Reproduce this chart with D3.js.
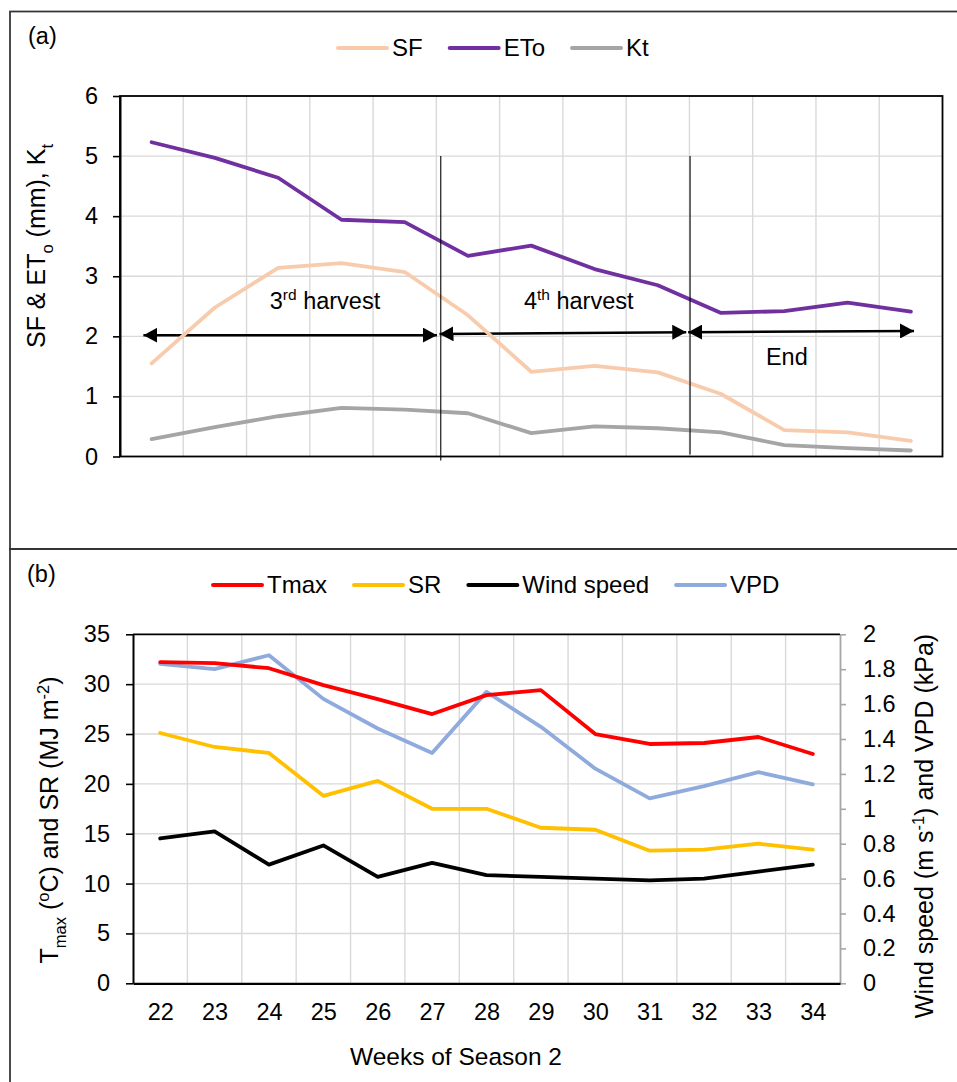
<!DOCTYPE html>
<html>
<head>
<meta charset="utf-8">
<script src="https://cdn.jsdelivr.net/npm/d3@7"></script>
<style>
  html, body { margin: 0; padding: 0; background: #fff; }
  svg { display: block; font-family: "Liberation Sans", Arial, Helvetica, sans-serif; }
</style>
</head>
<body>
<svg id="chart" width="957" height="1082"></svg>
<script>
// ---- data -------------------------------------------------------------
const weeks = [22, 23, 24, 25, 26, 27, 28, 29, 30, 31, 32, 33, 34];

// panel (a): sap flow, reference evapotranspiration, crop coefficient
const sfValues  = [1.55, 2.48, 3.14, 3.22, 3.07, 2.35, 1.41, 1.51, 1.40, 1.04, 0.44, 0.40, 0.26];
const etoValues = [5.23, 4.97, 4.64, 3.94, 3.90, 3.34, 3.51, 3.12, 2.85, 2.39, 2.42, 2.56, 2.41];
const ktValues  = [0.29, 0.49, 0.67, 0.81, 0.78, 0.72, 0.39, 0.50, 0.47, 0.40, 0.19, 0.14, 0.10];

// panel (b): weather
const tmaxValues = [32.2, 32.1, 31.6, 29.9, 28.5, 27.0, 28.9, 29.4, 25.0, 24.0, 24.1, 24.7, 23.0];
const srValues   = [25.1, 23.7, 23.1, 18.8, 20.3, 17.5, 17.5, 15.6, 15.4, 13.3, 13.4, 14.0, 13.4];
const windValues = [0.83, 0.87, 0.68, 0.79, 0.61, 0.69, 0.62, 0.61, 0.60, 0.59, 0.60, 0.64, 0.68];
const vpdValues  = [1.83, 1.80, 1.88, 1.63, 1.46, 1.32, 1.67, 1.47, 1.23, 1.06, 1.13, 1.21, 1.14];

// tick labels
const aTicks     = [0, 1, 2, 3, 4, 5, 6];
const leftTicks  = [0, 5, 10, 15, 20, 25, 30, 35];
const rightTicks = [0, 0.2, 0.4, 0.6, 0.8, 1, 1.2, 1.4, 1.6, 1.8, 2];

// harvest periods: [startWeek, startY, endWeek, endY]
const periodArrows = [[21.87, 2.02, 26.51, 2.02], [26.55, 2.04, 30.45, 2.07], [30.48, 2.07, 34.05, 2.09]];
const periodBounds = [26.57, 30.51];
const periodLabels = [
  { week: 24.74, y: 2.45, parts: [{ t: "3" }, { t: "rd", sup: true }, { t: " harvest" }] },
  { week: 28.75, y: 2.45, parts: [{ t: "4" }, { t: "th", sup: true }, { t: " harvest" }] },
  { week: 32.04, y: 1.52, parts: [{ t: "End" }] }
];

// ---- setup ------------------------------------------------------------
const svg = d3.select("#chart");
const FONT = 23.5;
const gridColor = "#d9d9d9";
const numFmt = d => String(+d.toFixed(1));

// outer frames of the two panels
svg.append("rect").attr("x", 10).attr("y", 11.5).attr("width", 1000).attr("height", 537.5)
  .attr("fill", "none").attr("stroke", "#333").attr("stroke-width", 1.75);
svg.append("rect").attr("x", 10).attr("y", 549).attr("width", 1000).attr("height", 600)
  .attr("fill", "none").attr("stroke", "#333").attr("stroke-width", 1.75);

// writes text made of plain / subscript / superscript pieces
function richText(textSel, parts, size) {
  let shift = 0;
  parts.forEach(p => {
    const ts = textSel.append("tspan").text(p.t);
    let target = 0;
    if (p.sub) target = size * 0.3;
    if (p.sup) target = -size * 0.38;
    ts.attr("dy", target - shift);
    if (p.sub || p.sup) ts.attr("font-size", size * 0.66);
    shift = target;
  });
}

function legend(items, x0, y, size) {
  const g = svg.append("g");
  let x = x0;
  items.forEach(it => {
    g.append("line").attr("x1", x).attr("x2", x + 49).attr("y1", y).attr("y2", y)
      .attr("stroke", it.color).attr("stroke-width", 4).attr("stroke-linecap", "round");
    const t = g.append("text").attr("x", x + 54).attr("y", y).attr("dy", "0.35em")
      .attr("font-size", size).attr("fill", "#000").text(it.name);
    x += 54 + t.node().getComputedTextLength() + 27;
  });
}

// ---- panel (a) --------------------------------------------------------
const ax = d3.scaleLinear().domain([21.5, 34.5]).range([120, 942.5]);
const ay = d3.scaleLinear().domain([0, 6]).range([456.5, 96]);

const ga = svg.append("g");
// grid
ga.selectAll(".hg").data(aTicks.slice(1, -1)).join("line")
  .attr("x1", ax.range()[0]).attr("x2", ax.range()[1])
  .attr("y1", d => ay(d)).attr("y2", d => ay(d))
  .attr("stroke", gridColor).attr("stroke-width", 1.4);
ga.selectAll(".vg").data(weeks.slice(0, -1).map(w => w + 0.5)).join("line")
  .attr("x1", d => ax(d)).attr("x2", d => ax(d))
  .attr("y1", ay(6)).attr("y2", ay(0))
  .attr("stroke", gridColor).attr("stroke-width", 1.4);

// harvest arrows
const defs = svg.append("defs");
defs.append("marker").attr("id", "head").attr("viewBox", "0 0 14 15")
  .attr("refX", 14).attr("refY", 7.5).attr("markerWidth", 14).attr("markerHeight", 15)
  .attr("markerUnits", "userSpaceOnUse").attr("orient", "auto-start-reverse")
  .append("path").attr("d", "M0,0L14,7.5L0,15Z").attr("fill", "#000");

ga.selectAll(".arrow").data(periodArrows).join("line")
  .attr("x1", d => ax(d[0])).attr("y1", d => ay(d[1]))
  .attr("x2", d => ax(d[2])).attr("y2", d => ay(d[3]))
  .attr("stroke", "#000").attr("stroke-width", 2.5)
  .attr("marker-start", "url(#head)").attr("marker-end", "url(#head)");

// series lines
const aSeries = [
  { name: "SF",  values: sfValues,  color: "#F8CBAD" },
  { name: "ETo", values: etoValues, color: "#7030A0" },
  { name: "Kt",  values: ktValues,  color: "#A5A5A5" }
];
const aLine = d3.line().x((d, i) => ax(weeks[i])).y(d => ay(d));
aSeries.forEach(s => {
  ga.append("path").datum(s.values).attr("d", aLine)
    .attr("fill", "none").attr("stroke", s.color).attr("stroke-width", 3.8)
    .attr("stroke-linejoin", "round").attr("stroke-linecap", "round");
});

// period boundaries
ga.selectAll(".bound").data(periodBounds).join("line")
  .attr("x1", d => ax(d)).attr("x2", d => ax(d))
  .attr("y1", ay(5)).attr("y2", (d, i) => ay(0) + (i === 0 ? 4 : -2))
  .attr("stroke", "#000").attr("stroke-width", 1.1);

// period labels
periodLabels.forEach(l => {
  const t = ga.append("text").attr("x", ax(l.week)).attr("y", ay(l.y))
    .attr("text-anchor", "middle").attr("font-size", FONT).attr("fill", "#000");
  richText(t, l.parts, FONT);
});

// plot frame
ga.append("rect").attr("x", ax.range()[0]).attr("y", ay(6))
  .attr("width", ax.range()[1] - ax.range()[0]).attr("height", ay(0) - ay(6))
  .attr("fill", "none").attr("stroke", "#000").attr("stroke-width", 1.8);

// y axis
const aAxis = ga.append("g").attr("transform", `translate(${ax.range()[0]},0)`)
  .call(d3.axisLeft(ay).tickValues(aTicks).tickSize(7).tickSizeOuter(0).tickPadding(15)
    .tickFormat(numFmt));
aAxis.select(".domain").attr("stroke", "#000").attr("stroke-width", 2);
aAxis.selectAll(".tick line").attr("stroke", "#000").attr("stroke-width", 1.6);
aAxis.selectAll(".tick text").attr("font-size", FONT).attr("fill", "#000")
  .attr("font-family", "'Liberation Sans', Arial, sans-serif");

// axis title
const aTitle = svg.append("text").attr("transform", "translate(45,246) rotate(-90)")
  .attr("text-anchor", "middle").attr("font-size", 25).attr("fill", "#000");
richText(aTitle, [{ t: "SF & ET" }, { t: "o", sub: true }, { t: " (mm), K" }, { t: "t", sub: true }], 25);

svg.append("text").attr("x", 28).attr("y", 44).attr("font-size", FONT).attr("fill", "#000").text("(a)");
legend(aSeries, 338, 48, 24);

// ---- panel (b) --------------------------------------------------------
const bx = d3.scaleLinear().domain([21.5, 34.5]).range([133, 840]);
const byL = d3.scaleLinear().domain([0, 35]).range([983.3, 634.3]);
const byR = d3.scaleLinear().domain([0, 2]).range([983.3, 634.3]);

const gb = svg.append("g");
gb.selectAll(".hg").data(leftTicks.slice(1, -1)).join("line")
  .attr("x1", bx.range()[0]).attr("x2", bx.range()[1])
  .attr("y1", d => byL(d)).attr("y2", d => byL(d))
  .attr("stroke", gridColor).attr("stroke-width", 1.4);
gb.selectAll(".vg").data(weeks.slice(0, -1).map(w => w + 0.5)).join("line")
  .attr("x1", d => bx(d)).attr("x2", d => bx(d))
  .attr("y1", byL(35)).attr("y2", byL(0))
  .attr("stroke", gridColor).attr("stroke-width", 1.4);

const bSeries = [
  { name: "Tmax",       values: tmaxValues, color: "#FF0000", scale: byL },
  { name: "SR",         values: srValues,   color: "#FFC000", scale: byL },
  { name: "Wind speed", values: windValues, color: "#000000", scale: byR },
  { name: "VPD",        values: vpdValues,  color: "#8FAADC", scale: byR }
];
// draw order: secondary-axis series first, then primary
[bSeries[2], bSeries[3], bSeries[0], bSeries[1]].forEach(s => {
  const line = d3.line().x((d, i) => bx(weeks[i])).y(d => s.scale(d));
  gb.append("path").datum(s.values).attr("d", line)
    .attr("fill", "none").attr("stroke", s.color).attr("stroke-width", 3.8)
    .attr("stroke-linejoin", "round").attr("stroke-linecap", "round");
});

// top edge of plot area
gb.append("line").attr("x1", bx.range()[0]).attr("x2", bx.range()[1])
  .attr("y1", byL(35)).attr("y2", byL(35)).attr("stroke", "#000").attr("stroke-width", 1.8);

// left axis
const lAxis = gb.append("g").attr("transform", `translate(${bx.range()[0]},0)`)
  .call(d3.axisLeft(byL).tickValues(leftTicks).tickSize(7).tickSizeOuter(0).tickPadding(16)
    .tickFormat(numFmt));
lAxis.select(".domain").attr("stroke", "#000").attr("stroke-width", 2);
lAxis.selectAll(".tick line").attr("stroke", "#000").attr("stroke-width", 1.6);

// right axis
const rAxis = gb.append("g").attr("transform", `translate(${bx.range()[1]},0)`)
  .call(d3.axisRight(byR).tickValues(rightTicks).tickSize(6).tickSizeOuter(0).tickPadding(17)
    .tickFormat(numFmt));
rAxis.select(".domain").attr("stroke", "#a6a6a6").attr("stroke-width", 1.8);
rAxis.selectAll(".tick line").attr("stroke", "#a6a6a6").attr("stroke-width", 1.6);

// bottom axis
const xAxis = gb.append("g").attr("transform", `translate(0,${byL(0)})`)
  .call(d3.axisBottom(bx).tickValues(weeks).tickSize(0).tickSizeOuter(0).tickPadding(20)
    .tickFormat(d3.format("d")));
xAxis.select(".domain").attr("stroke", "#000").attr("stroke-width", 2.2);

[lAxis, rAxis, xAxis].forEach(a => a.selectAll(".tick text").attr("font-size", FONT).attr("fill", "#000")
  .attr("font-family", "'Liberation Sans', Arial, sans-serif"));

// axis titles
const lTitle = svg.append("text").attr("transform", "translate(58,820) rotate(-90)")
  .attr("text-anchor", "middle").attr("font-size", 25).attr("fill", "#000");
richText(lTitle, [{ t: "T" }, { t: "max", sub: true }, { t: " (" }, { t: "o", sup: true },
  { t: "C) and SR (MJ m" }, { t: "-2", sup: true }, { t: ")" }], 25);

const rTitle = svg.append("text").attr("transform", "translate(933,826) rotate(-90)")
  .attr("text-anchor", "middle").attr("font-size", 25).attr("fill", "#000");
richText(rTitle, [{ t: "Wind speed (m s" }, { t: "-1", sup: true }, { t: ") and VPD (kPa)" }], 25);

svg.append("text").attr("x", 456).attr("y", 1065).attr("text-anchor", "middle")
  .attr("font-size", 24.5).attr("fill", "#000").text("Weeks of Season 2");

svg.append("text").attr("x", 27).attr("y", 582).attr("font-size", FONT).attr("fill", "#000").text("(b)");
legend(bSeries, 213, 585, 24);
</script>
</body>
</html>
